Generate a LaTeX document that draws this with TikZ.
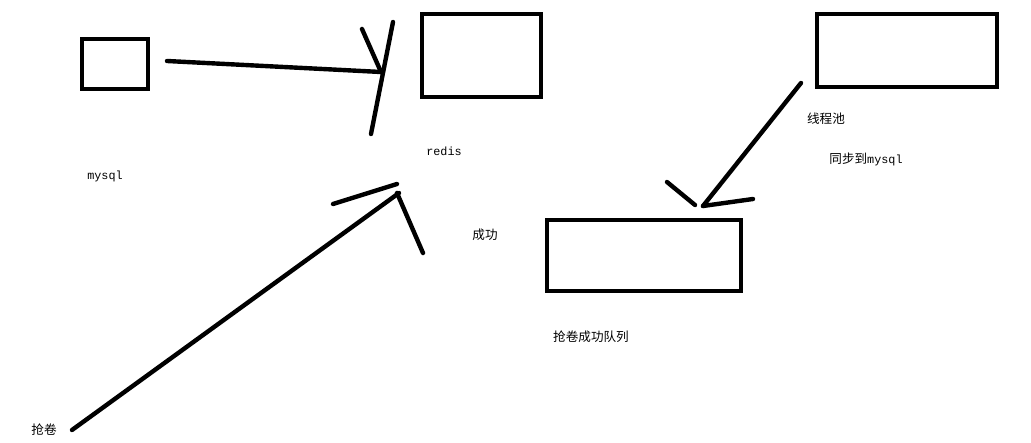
\documentclass[tikz,border=0pt]{standalone}
\usepackage{fontspec}
\usepackage{tikz}
\setmonofont{Liberation Mono}
\newfontfamily\cjk{Noto Sans CJK SC}
\tikzset{box/.style = {draw, line width = 4.4pt, inner sep = 0}}
\tikzset{pen/.style = {line width = 4.4pt, line cap = round}}
\tikzset{lbl/.style = {inner sep = 0, font = \fontsize{12.6pt}{14pt}\cjk}}
\tikzset{tlbl/.style = {inner sep = 0, font = \fontsize{11.8pt}{14pt}\ttfamily}}
\begin{document}
\begin{tikzpicture}[x=1pt, y=-1pt]
      \useasboundingbox (0, 0) rectangle (1031, 443);
      \node [box, minimum width = 66, minimum height = 50] (mysql) at (115, 64) {};
      \node [box, minimum width = 119, minimum height = 83] (redis) at (481.5, 55.5) {};
      \node [box, minimum width = 180, minimum height = 73] (pool) at (907, 50.5) {};
      \node [box, minimum width = 194, minimum height = 71] (queue) at (644, 255.5) {};
      \node [tlbl] (mysqltext) at (105, 176) {mysql};
      \node [tlbl] (redistext) at (444, 151) {redis};
      \node [lbl] (ok) at (485, 235) {成功};
      \node [lbl] (pooltext) at (826, 119) {线程池};
      \node [lbl] (sync) at (866, 159) {同步到\fontsize{11.8pt}{14pt}\ttfamily mysql};
      \node [lbl] (queuetext) at (591, 337) {抢卷成功队列};
      \node [lbl] (grab) at (44, 430) {抢卷};
      % mysql -> redis
      \coordinate (load) at (167, 61);
      \coordinate (loadtip) at (381, 72);
      \draw [pen] (load) -- (loadtip);
      \draw [pen] (393, 22) -- (371, 134);
      \draw [pen] (362, 29) -- (loadtip);
      % grab -> redis
      \coordinate (ask) at (72, 430);
      \coordinate (asktip) at (399, 193);
      \draw [pen] (ask) -- (asktip);
      \draw [pen] (333, 204) -- (397, 184);
      \draw [pen] (397, 193) -- (423, 253);
      % pool -> queue
      \coordinate (poll) at (801, 83);
      \coordinate (polltip) at (703, 206);
      \draw [pen] (poll) -- (polltip);
      \draw [pen] (667, 182) -- (695, 205);
      \draw [pen] (polltip) -- (753, 199);
    \end{tikzpicture}
\end{document}
